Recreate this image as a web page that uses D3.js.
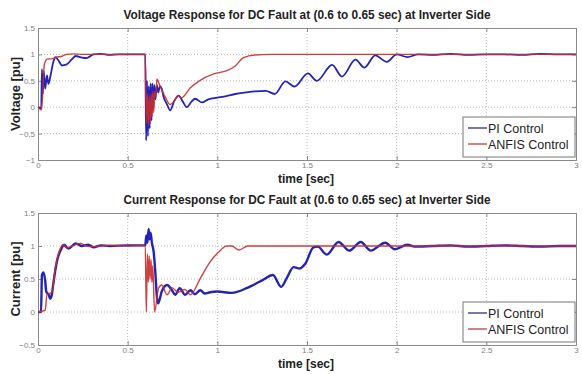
<!DOCTYPE html>
<html>
<head>
<meta charset="utf-8">
<script src="https://cdn.jsdelivr.net/npm/d3@7"></script>
<style>
  body { margin: 0; background: #fff; }
  svg { font-family: Arial, "Liberation Sans", sans-serif; }
</style>
</head>
<body>
<svg id="chart" width="582" height="374"></svg>
<script>
// voltage, PI control (time [sec], value [pu])
var voltPiT = [0, 0.01, 0.018, 0.022, 0.027, 0.032, 0.04, 0.05, 0.058, 0.07, 0.085, 0.097, 0.115, 0.134, 0.16, 0.19, 0.21, 0.245, 0.27, 0.31, 0.35, 0.4, 0.45, 0.5, 0.55, 0.598,
  0.603, 0.608, 0.613, 0.618, 0.623, 0.628, 0.633, 0.638, 0.643, 0.648, 0.655, 0.662, 0.67, 0.68, 0.69, 0.7, 0.72, 0.737, 0.76, 0.785, 0.805, 0.83, 0.855, 0.877, 0.914, 0.95,
  1.0, 1.05, 1.1, 1.16, 1.21, 1.27, 1.32, 1.38, 1.43, 1.505, 1.555, 1.64, 1.695, 1.77, 1.82, 1.88, 1.945, 2.0, 2.06, 2.12, 2.2, 2.3, 2.4, 2.5, 2.6, 2.7, 2.8, 2.9, 3.0]
var voltPiV = [0, -0.01, -0.03, 0.72, 0.25, 0.68, 0.35, 0.6, 0.44, 0.6, 0.85, 0.95, 0.88, 0.79, 0.81, 0.91, 0.97, 0.94, 0.93, 1.0, 1.01, 0.99, 1.0, 1.0, 1.0, 1.0,
  -0.63, 0.5, -0.55, 0.4, -0.4, 0.45, -0.25, 0.45, -0.05, 0.42, 0.15, 0.42, 0.28, 0.4, 0.35, 0.2, 0.05, -0.06, 0.12, 0.22, 0.12, 0.0, 0.1, 0.16, 0.09, 0.15,
  0.18, 0.21, 0.25, 0.28, 0.3, 0.31, 0.25, 0.49, 0.39, 0.64, 0.5, 0.8, 0.58, 0.9, 0.75, 0.98, 0.86, 1.0, 0.95, 1.0, 0.99, 1.01, 0.99, 1.0, 1.0, 0.99, 1.01, 1.0, 1.0]

// voltage, ANFIS control
var voltAnfisT = [0, 0.02, 0.035, 0.05, 0.08, 0.105, 0.13, 0.16, 0.2, 0.25, 0.3, 0.4, 0.5, 0.598,
  0.604, 0.61, 0.615, 0.62, 0.625, 0.63, 0.635, 0.64, 0.645, 0.65, 0.657, 0.663, 0.68, 0.71, 0.737, 0.76, 0.78, 0.8, 0.85, 0.9, 0.98,
  1.06, 1.1, 1.146, 1.21, 1.3, 1.5, 1.7, 1.9, 2.1, 2.3, 2.5, 2.7, 2.9, 3.0]
var voltAnfisV = [0, -0.05, 0.8, 0.91, 0.92, 0.95, 0.96, 1.0, 1.01, 1.0, 1.0, 1.0, 1.0, 1.0,
  -0.3, 0.25, -0.35, 0.2, -0.3, 0.25, -0.2, 0.3, -0.1, 0.3, 0.2, 0.53, 0.4, 0.19, 0.05, 0.12, 0.22, 0.18, 0.37, 0.5, 0.63,
  0.7, 0.78, 0.94, 0.99, 1.0, 1.0, 1.0, 1.0, 1.0, 1.0, 1.0, 1.0, 1.0, 1.0]

// current, PI control
var currPiT = [0, 0.017, 0.022, 0.03, 0.04, 0.046, 0.06, 0.068, 0.077, 0.087, 0.105, 0.134, 0.145, 0.17, 0.21, 0.245, 0.28, 0.31, 0.35, 0.4, 0.5, 0.598,
  0.604, 0.61, 0.617, 0.622, 0.628, 0.635, 0.645, 0.654, 0.663, 0.67, 0.69, 0.72, 0.747, 0.765, 0.79, 0.82, 0.85, 0.875, 0.905, 0.93, 0.96,
  1.0, 1.08, 1.17, 1.25, 1.31, 1.356, 1.39, 1.425, 1.46, 1.49, 1.536, 1.56, 1.61, 1.676, 1.735, 1.8, 1.855, 1.936, 1.99, 2.06, 2.1,
  2.2, 2.3, 2.4, 2.5, 2.6, 2.7, 2.8, 2.9, 3.0]
var currPiV = [0, 0, 0.56, 0.6, 0.48, 0.31, 0.26, 0.2, 0.26, 0.46, 0.76, 0.98, 1.02, 0.96, 1.04, 1.0, 1.02, 0.98, 1.01, 1.0, 1.01, 1.01,
  1.16, 1.05, 1.26, 1.1, 1.2, 1.05, 0.91, 0.61, 0.23, 0.13, 0.31, 0.41, 0.33, 0.26, 0.36, 0.26, 0.33, 0.27, 0.33, 0.28, 0.3,
  0.31, 0.29, 0.37, 0.48, 0.56, 0.38, 0.53, 0.68, 0.66, 0.73, 0.98, 0.99, 0.87, 1.06, 0.93, 1.06, 0.93, 1.05, 0.95, 1.02, 0.99,
  1.0, 1.01, 0.99, 1.0, 1.01, 1.0, 0.99, 1.0, 1.0]

// current, ANFIS control
var currAnfisT = [0, 0.04, 0.05, 0.078, 0.096, 0.124, 0.14, 0.16, 0.2, 0.236, 0.27, 0.3, 0.4, 0.5, 0.598,
  0.604, 0.61, 0.615, 0.62, 0.625, 0.63, 0.635, 0.64, 0.65, 0.672, 0.69, 0.72, 0.747, 0.78, 0.82, 0.85, 0.905, 0.96, 1.02,
  1.05, 1.08, 1.12, 1.17, 1.3, 1.5, 1.7, 1.9, 2.1, 2.3, 2.5, 2.7, 2.9, 3.0]
var currAnfisV = [0, 0.03, 0.26, 0.3, 0.66, 0.96, 1.02, 0.97, 1.01, 1.04, 1.0, 0.99, 1.01, 1.0, 1.01,
  0.0, 0.88, 0.45, 0.85, 0.5, 0.8, 0.45, 0.7, 0.0, 0.36, 0.41, 0.26, 0.37, 0.3, 0.34, 0.26, 0.51, 0.76, 0.94,
  1.0, 1.0, 0.94, 1.0, 1.0, 1.0, 1.0, 1.0, 1.0, 1.0, 1.0, 1.0, 1.0, 1.0]

var xTicks = [0, 0.5, 1, 1.5, 2, 2.5, 3]
var voltTicks = [-1, -0.5, 0, 0.5, 1, 1.5]
var currTicks = [-0.5, 0, 0.5, 1, 1.5]
var legendNames = ["PI Control", "ANFIS Control"]
var seriesColors = ["#2323b8", "#cc2b2b"]

var svg = d3.select("#chart")

function zip(ts, vs) {
    return ts.map(function(t, i) { return [t, vs[i]] })
}

function drawPanel(cfg) {
    var x = d3.scaleLinear().domain([0, 3]).range([38, 576])
    var y = d3.scaleLinear().domain(cfg.yDomain).range([cfg.bottom, cfg.top])
    var g = svg.append("g")

    // grid (dotted)
    g.selectAll(".gx").data(xTicks.slice(1, -1)).enter().append("line")
        .attr("x1", d => x(d)).attr("x2", d => x(d))
        .attr("y1", cfg.top).attr("y2", cfg.bottom)
        .attr("stroke", "#b8b8b8").attr("stroke-dasharray", "1,2")
    g.selectAll(".gy").data(cfg.yTicks.slice(1, -1)).enter().append("line")
        .attr("x1", 38).attr("x2", 576)
        .attr("y1", d => y(d)).attr("y2", d => y(d))
        .attr("stroke", "#b8b8b8").attr("stroke-dasharray", "1,2")

    // axes, ticks pointing inwards like matlab
    g.append("g").attr("transform", "translate(0," + cfg.bottom + ")")
        .call(d3.axisBottom(x).tickValues(xTicks).tickSize(-4).tickPadding(2).tickFormat(d3.format("")))
    g.append("g").attr("transform", "translate(38,0)")
        .call(d3.axisLeft(y).tickValues(cfg.yTicks).tickSize(-4).tickPadding(3).tickFormat(d3.format("")))
    g.append("g").attr("transform", "translate(0," + cfg.top + ")")
        .call(d3.axisTop(x).tickValues(xTicks).tickSize(-4).tickFormat(""))
    g.append("g").attr("transform", "translate(576,0)")
        .call(d3.axisRight(y).tickValues(cfg.yTicks).tickSize(-4).tickFormat(""))
    g.selectAll(".domain").attr("stroke", "#8a8a8a")
    g.selectAll(".tick line").attr("stroke", "#8a8a8a")
    g.selectAll(".tick text").attr("fill", "#808080").style("font-size", "8px")

    // series
    var line = d3.line().x(d => x(d[0])).y(d => y(d[1])).curve(d3.curveMonotoneX)
    g.append("path").datum(zip(cfg.piT, cfg.piV))
        .attr("d", line).attr("fill", "none")
        .attr("stroke", seriesColors[0]).attr("stroke-width", cfg.piWidth)
    g.append("path").datum(zip(cfg.anfisT, cfg.anfisV))
        .attr("d", line).attr("fill", "none")
        .attr("stroke", seriesColors[1]).attr("stroke-width", 1.4).attr("stroke-opacity", 0.9)

    // title and labels
    g.append("text").attr("x", 307).attr("y", cfg.top - 9)
        .attr("text-anchor", "middle").attr("font-weight", "bold").attr("font-size", 12)
        .attr("textLength", 367).attr("lengthAdjust", "spacingAndGlyphs")
        .attr("fill", "#222").text(cfg.title)
    g.append("text").attr("x", 306).attr("y", cfg.bottom + 23)
        .attr("text-anchor", "middle").attr("font-weight", "bold").attr("font-size", 12)
        .attr("fill", "#222").text("time [sec]")
    g.append("text")
        .attr("transform", "translate(20," + ((cfg.top + cfg.bottom) / 2) + ") rotate(-90)")
        .attr("text-anchor", "middle").attr("font-weight", "bold").attr("font-size", 13)
        .attr("fill", "#222").text(cfg.yLabel)

    // legend
    var lg = g.append("g").attr("transform", "translate(463," + (cfg.bottom - 43) + ")")
    lg.append("rect").attr("width", 112).attr("height", 40)
        .attr("fill", "#fff").attr("stroke", "#777")
    legendNames.forEach(function(name, i) {
        var ly = 11 + i * 16
        lg.append("line").attr("x1", 5).attr("x2", 24).attr("y1", ly).attr("y2", ly)
            .attr("stroke", i == 0 ? "#4a4a9c" : "#c45a5a").attr("stroke-width", 1.5)
        lg.append("text").attr("x", 25).attr("y", ly + 4.5)
            .attr("font-size", 12.5).attr("fill", "#222").text(name)
    })
}

drawPanel({
    title: "Voltage Response for DC Fault at (0.6 to 0.65 sec) at Inverter Side",
    yLabel: "Voltage [pu]", yDomain: [-1, 1.5], yTicks: voltTicks,
    top: 28, bottom: 160, piWidth: 1.8,
    piT: voltPiT, piV: voltPiV, anfisT: voltAnfisT, anfisV: voltAnfisV
})

drawPanel({
    title: "Current Response for DC Fault at (0.6 to 0.65 sec) at Inverter Side",
    yLabel: "Current [pu]", yDomain: [-0.5, 1.5], yTicks: currTicks,
    top: 213, bottom: 345, piWidth: 2.4,
    piT: currPiT, piV: currPiV, anfisT: currAnfisT, anfisV: currAnfisV
})
</script>
</body>
</html>
